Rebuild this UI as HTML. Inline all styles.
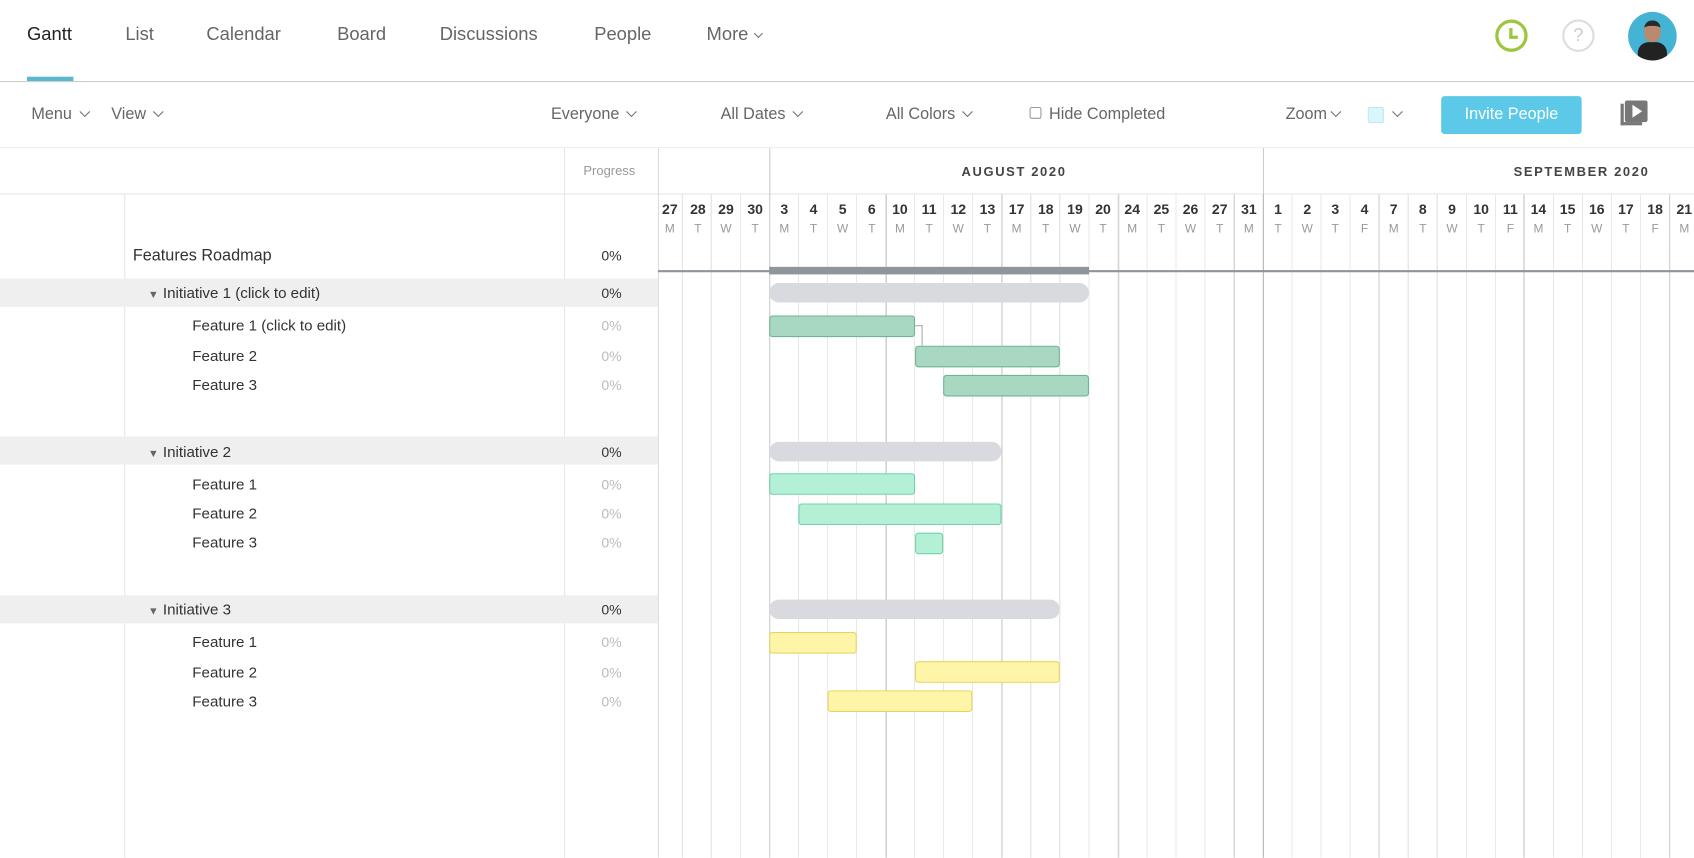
<!DOCTYPE html>
<html><head><meta charset="utf-8"><style>
*{margin:0;padding:0;box-sizing:border-box}
body{width:1694px;height:858px;overflow:hidden;background:#fff;font-family:"Liberation Sans",sans-serif}
#s{position:absolute;left:0;top:0;width:1568px;height:794px;transform:scale(1.08036);transform-origin:0 0}
.a{position:absolute;white-space:nowrap}
.tab{font-size:17px;color:#666;top:22px}
.tb{font-size:15px;color:#666;top:97px}
.chev{display:inline-block;width:7px;height:7px;border-right:1.5px solid #777;border-bottom:1.5px solid #777;transform:rotate(45deg);margin-left:8px;position:relative;top:-3px}
.dn{font-size:13px;font-weight:bold;color:#333;top:186px;width:26px;text-align:center}
.dl{font-size:11px;color:#999;top:206px;width:26px;text-align:center}
.vl{position:absolute;top:180px;bottom:0;width:1px;background:#cfcfcf}
.name{font-size:14px;color:#333}
.pc{font-size:13px;color:#bbb;left:540px;width:52px;text-align:center}
.pb{font-size:13px;color:#333;left:540px;width:52px;text-align:center}
.bar{position:absolute;border-radius:3px;height:20px}
.g{background:#a8d8c1;border:1px solid #6fb592}
.m{background:#b3f0d6;border:1px solid #6fd4a8}
.y{background:#fff5a8;border:1px solid #e6d660}
.ib{position:absolute;background:#d9d9e0;border-radius:9px;height:18px}
.row{position:absolute;left:0;width:609px;height:26px;background:#efefef}
</style></head><body><div id="s">
<!-- nav -->
<div class="a tab" style="left:25px;color:#222">Gantt</div>
<div style="position:absolute;left:25px;top:71px;width:43px;height:4px;background:#5bb8cf"></div>
<div class="a tab" style="left:116px">List</div>
<div class="a tab" style="left:191px">Calendar</div>
<div class="a tab" style="left:312px">Board</div>
<div class="a tab" style="left:407px">Discussions</div>
<div class="a tab" style="left:550px">People</div>
<div class="a tab" style="left:654px">More<span class="chev" style="width:6px;height:6px;margin-left:6px"></span></div>
<div style="position:absolute;left:1384px;top:18px;width:30px;height:30px;border:3px solid #9dc63f;border-radius:50%"></div>
<div style="position:absolute;left:1397px;top:26px;width:3px;height:9px;background:#9dc63f"></div>
<div style="position:absolute;left:1397px;top:33px;width:8px;height:3px;background:#9dc63f"></div>
<div style="position:absolute;left:1446px;top:18px;width:30px;height:30px;border:2px solid #ddd;border-radius:50%;color:#ccc;font-size:17px;text-align:center;line-height:26px">?</div>
<div style="position:absolute;left:1507px;top:11px;width:45px;height:45px;border-radius:50%;background:#45b3d3;overflow:hidden"><div style="position:absolute;left:9px;top:28px;width:27px;height:20px;border-radius:10px 10px 0 0;background:#222"></div><div style="position:absolute;left:15px;top:8px;width:15px;height:20px;border-radius:7px;background:#b98a70;border-top:5px solid #2a2a2a"></div></div>
<div style="position:absolute;left:0;top:75px;width:1568px;height:1px;background:#ccc"></div>
<!-- toolbar -->
<div class="a tb" style="left:29px">Menu<span class="chev"></span></div>
<div class="a tb" style="left:103px">View<span class="chev"></span></div>
<div class="a tb" style="left:510px">Everyone<span class="chev"></span></div>
<div class="a tb" style="left:667px">All Dates<span class="chev"></span></div>
<div class="a tb" style="left:820px">All Colors<span class="chev"></span></div>
<div style="position:absolute;left:953px;top:99px;width:11px;height:11px;border:1px solid #999;border-radius:2px"></div>
<div class="a tb" style="left:971px">Hide Completed</div>
<div class="a tb" style="left:1190px">Zoom<span class="chev" style="margin-left:5px"></span></div>
<div style="position:absolute;left:1266px;top:99px;width:15px;height:15px;background:#d8f6fb;border:1px solid #bfe9f2;border-radius:2px"></div>
<div class="a tb" style="left:1282px"><span class="chev"></span></div>
<div style="position:absolute;left:1334px;top:89px;width:130px;height:35px;background:#5cc9e8;border-radius:3px;color:#fff;font-size:15px;text-align:center;line-height:33px">Invite People</div>
<div style="position:absolute;left:1500px;top:96px;width:20px;height:20px;border-left:3px solid #777;border-bottom:3px solid #777"></div>
<div style="position:absolute;left:1504px;top:93px;width:21px;height:20px;background:#777;border-radius:2px"></div>
<div style="position:absolute;left:1511px;top:97px;width:0;height:0;border-left:9px solid #fff;border-top:6px solid transparent;border-bottom:6px solid transparent"></div>
<div style="position:absolute;left:0;top:136px;width:1568px;height:1px;background:#eee"></div>
<!-- header -->
<div class="a" style="left:540px;top:151px;font-size:12px;color:#999">Progress</div>
<div style="position:absolute;left:0;top:179px;width:1568px;height:1px;background:#e6e6e6"></div>
<div style="position:absolute;left:115px;top:180px;bottom:0;width:1px;background:#e6e6e6"></div>
<div style="position:absolute;left:522px;top:137px;bottom:0;width:1px;background:#e6e6e6"></div>
<div style="position:absolute;left:609px;top:137px;bottom:0;width:1px;background:#ddd"></div>
<div style="position:absolute;left:712px;top:137px;height:43px;width:1px;background:#ccc"></div>
<div style="position:absolute;left:1169px;top:137px;height:43px;width:1px;background:#ccc"></div>
<div class="a" style="left:890px;top:152px;font-size:12px;letter-spacing:1.5px;color:#444;font-weight:bold">AUGUST 2020</div>
<div class="a" style="left:1401px;top:152px;font-size:12px;letter-spacing:1.5px;color:#444;font-weight:bold">SEPTEMBER 2020</div>
<!-- grid -->
<div style="position:absolute;left:631px;top:180px;width:937px;bottom:0;background:repeating-linear-gradient(to right,#e8e8e8 0 1px,transparent 1px 26.88px)"></div>
<div class="vl" style="left:712px"></div><div class="vl" style="left:820px"></div><div class="vl" style="left:927px"></div><div class="vl" style="left:1035px"></div><div class="vl" style="left:1142px"></div><div class="vl" style="left:1169px;background:#bbb"></div><div class="vl" style="left:1276px"></div><div class="vl" style="left:1410px"></div><div class="vl" style="left:1545px"></div>
<!-- days -->
<div class="a dn" style="left:607px">27</div><div class="a dl" style="left:607px">M</div>
<div class="a dn" style="left:633px">28</div><div class="a dl" style="left:633px">T</div>
<div class="a dn" style="left:659px">29</div><div class="a dl" style="left:659px">W</div>
<div class="a dn" style="left:686px">30</div><div class="a dl" style="left:686px">T</div>
<div class="a dn" style="left:713px">3</div><div class="a dl" style="left:713px">M</div>
<div class="a dn" style="left:740px">4</div><div class="a dl" style="left:740px">T</div>
<div class="a dn" style="left:767px">5</div><div class="a dl" style="left:767px">W</div>
<div class="a dn" style="left:794px">6</div><div class="a dl" style="left:794px">T</div>
<div class="a dn" style="left:820px">10</div><div class="a dl" style="left:820px">M</div>
<div class="a dn" style="left:847px">11</div><div class="a dl" style="left:847px">T</div>
<div class="a dn" style="left:874px">12</div><div class="a dl" style="left:874px">W</div>
<div class="a dn" style="left:901px">13</div><div class="a dl" style="left:901px">T</div>
<div class="a dn" style="left:928px">17</div><div class="a dl" style="left:928px">M</div>
<div class="a dn" style="left:955px">18</div><div class="a dl" style="left:955px">T</div>
<div class="a dn" style="left:982px">19</div><div class="a dl" style="left:982px">W</div>
<div class="a dn" style="left:1008px">20</div><div class="a dl" style="left:1008px">T</div>
<div class="a dn" style="left:1035px">24</div><div class="a dl" style="left:1035px">M</div>
<div class="a dn" style="left:1062px">25</div><div class="a dl" style="left:1062px">T</div>
<div class="a dn" style="left:1089px">26</div><div class="a dl" style="left:1089px">W</div>
<div class="a dn" style="left:1116px">27</div><div class="a dl" style="left:1116px">T</div>
<div class="a dn" style="left:1143px">31</div><div class="a dl" style="left:1143px">M</div>
<div class="a dn" style="left:1170px">1</div><div class="a dl" style="left:1170px">T</div>
<div class="a dn" style="left:1197px">2</div><div class="a dl" style="left:1197px">W</div>
<div class="a dn" style="left:1223px">3</div><div class="a dl" style="left:1223px">T</div>
<div class="a dn" style="left:1250px">4</div><div class="a dl" style="left:1250px">F</div>
<div class="a dn" style="left:1277px">7</div><div class="a dl" style="left:1277px">M</div>
<div class="a dn" style="left:1304px">8</div><div class="a dl" style="left:1304px">T</div>
<div class="a dn" style="left:1331px">9</div><div class="a dl" style="left:1331px">W</div>
<div class="a dn" style="left:1358px">10</div><div class="a dl" style="left:1358px">T</div>
<div class="a dn" style="left:1385px">11</div><div class="a dl" style="left:1385px">F</div>
<div class="a dn" style="left:1411px">14</div><div class="a dl" style="left:1411px">M</div>
<div class="a dn" style="left:1438px">15</div><div class="a dl" style="left:1438px">T</div>
<div class="a dn" style="left:1465px">16</div><div class="a dl" style="left:1465px">W</div>
<div class="a dn" style="left:1492px">17</div><div class="a dl" style="left:1492px">T</div>
<div class="a dn" style="left:1519px">18</div><div class="a dl" style="left:1519px">F</div>
<div class="a dn" style="left:1546px">21</div><div class="a dl" style="left:1546px">M</div>
<!-- rows -->
<div class="a name" style="left:123px;top:228px;font-size:15px">Features Roadmap</div><div class="a pb" style="top:229px">0%</div>
<div style="position:absolute;left:609px;top:250px;width:959px;height:2px;background:#8e959b"></div>
<div style="position:absolute;left:712px;top:247px;width:296px;height:7px;background:#8e959b"></div>

<div class="row" style="top:258px"></div>
<div class="a name" style="left:137px;top:263px"><span style="font-size:10px;color:#666">▼</span> Initiative 1 (click to edit)</div><div class="a pb" style="top:264px">0%</div>
<div class="a name" style="left:178px;top:293px">Feature 1 (click to edit)</div><div class="a pc" style="top:294px">0%</div>
<div class="a name" style="left:178px;top:321px">Feature 2</div><div class="a pc" style="top:322px">0%</div>
<div class="a name" style="left:178px;top:348px">Feature 3</div><div class="a pc" style="top:349px">0%</div>
<div class="ib" style="left:712px;top:262px;width:296px"></div>
<div class="bar g" style="left:712px;top:292px;width:135px"></div>
<div style="position:absolute;left:847px;top:301px;width:7px;height:19px;border-top:1px solid #aaa;border-right:1px solid #aaa"></div>
<div class="bar g" style="left:847px;top:320px;width:134px"></div>
<div class="bar g" style="left:873px;top:347px;width:135px"></div>

<div class="row" style="top:404px"></div>
<div class="a name" style="left:137px;top:410px"><span style="font-size:10px;color:#666">▼</span> Initiative 2</div><div class="a pb" style="top:411px">0%</div>
<div class="a name" style="left:178px;top:440px">Feature 1</div><div class="a pc" style="top:441px">0%</div>
<div class="a name" style="left:178px;top:467px">Feature 2</div><div class="a pc" style="top:468px">0%</div>
<div class="a name" style="left:178px;top:494px">Feature 3</div><div class="a pc" style="top:495px">0%</div>
<div class="ib" style="left:712px;top:409px;width:215px"></div>
<div class="bar m" style="left:712px;top:438px;width:135px"></div>
<div class="bar m" style="left:739px;top:466px;width:188px"></div>
<div class="bar m" style="left:847px;top:493px;width:26px"></div>

<div class="row" style="top:551px"></div>
<div class="a name" style="left:137px;top:556px"><span style="font-size:10px;color:#666">▼</span> Initiative 3</div><div class="a pb" style="top:557px">0%</div>
<div class="a name" style="left:178px;top:586px">Feature 1</div><div class="a pc" style="top:587px">0%</div>
<div class="a name" style="left:178px;top:614px">Feature 2</div><div class="a pc" style="top:615px">0%</div>
<div class="a name" style="left:178px;top:641px">Feature 3</div><div class="a pc" style="top:642px">0%</div>
<div class="ib" style="left:712px;top:555px;width:269px"></div>
<div class="bar y" style="left:712px;top:585px;width:81px"></div>
<div class="bar y" style="left:847px;top:612px;width:134px"></div>
<div class="bar y" style="left:766px;top:639px;width:134px"></div>
</div></body></html>
